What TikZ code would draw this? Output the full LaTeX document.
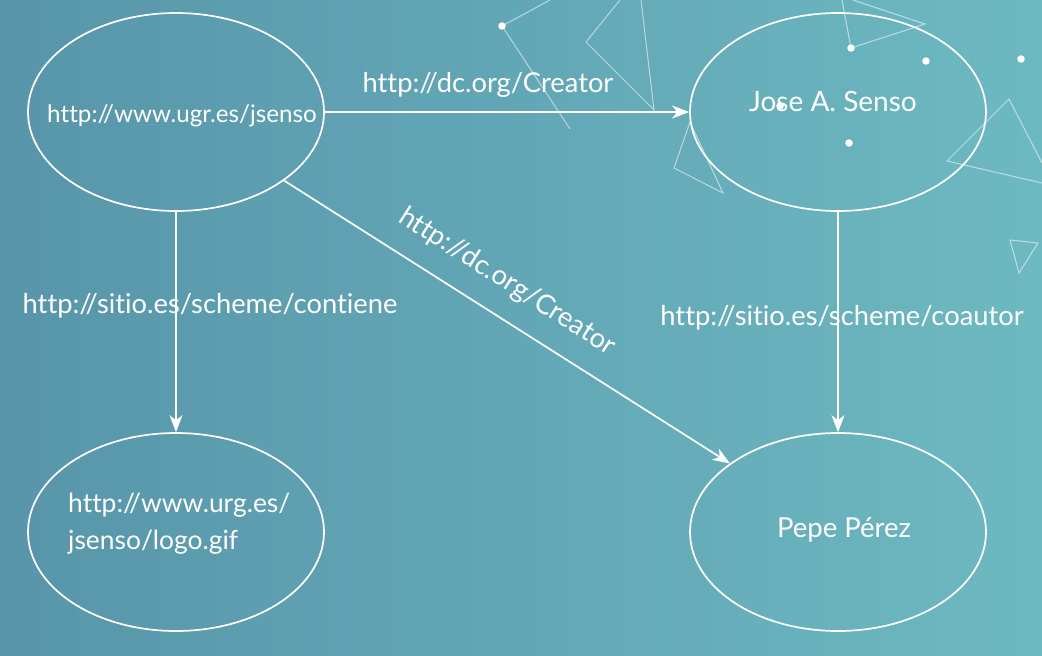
\documentclass[tikz,border=0pt]{standalone}
\usepackage{fontspec}
\setmainfont{Lato}[Ligatures={NoCommon}]
\usetikzlibrary{arrows.meta, shapes.geometric}
\definecolor{bgleft}{HTML}{5895AA}
\definecolor{bgright}{HTML}{6DB9C1}

\begin{document}
\begin{tikzpicture}[x=1pt, y=-1pt,
    res/.style={ellipse, draw=white, line width=1.7pt, minimum width=296pt, minimum height=198pt, inner sep=0pt},
    restext/.style={text=white, inner sep=0pt, anchor=base, font=\fontsize{27.5}{37}\selectfont},
    prop/.style={text=white, inner sep=0pt, anchor=base, font=\fontsize{27.3}{30}\selectfont},
    arrow/.style={-{Stealth[length=17pt, width=13pt, inset=5pt]}, line width=1.7pt, color=white},
    deco/.style={white, opacity=0.55, line width=1pt},
    dot/.style={circle, fill=white, inner sep=0pt, minimum size=7.5pt}
]
% Background
\useasboundingbox (0,0) rectangle (1042,656);
\clip (0,0) rectangle (1042,656);
\shade[left color=bgleft, right color=bgright] (0,0) rectangle (1042,656);

% Decoration
\draw[deco] (550,0) -- (502,26) -- (570,129);
\draw[deco] (620,0) -- (586,42) -- (654,110) -- (641,0);
\draw[deco] (690,122) -- (674,168) -- (723,193) -- cycle;
\draw[deco] (842,0) -- (851,48) -- (925,24) -- (853,0);
\draw[deco] (1042,163) -- (1009,99) -- (947,161) -- (1042,183);
\draw[deco] (1010,240) -- (1038,243) -- (1019,273) -- cycle;
\foreach \p [count=\i] in {(502,26), (851,48), (926,61), (1021,59), (849,143), (780,106)}
    \node[dot] (dot\i) at \p {};

% Resources
\node[res] (ugr) at (176,112) {};
\node[res] (senso) at (838,112) {};
\node[res] (logo) at (176,532) {};
\node[res] (perez) at (838,532) {};
\node[restext, font=\fontsize{24.2}{30}\selectfont] (ugrtxt) at (182,122) {http://www.ugr.es/jsenso};
\node[restext, font=\fontsize{28}{34}\selectfont] (sensotxt) at (833,111) {Jose A. Senso};
\node[restext, anchor=north west, align=left, font=\fontsize{26.4}{37}\selectfont] (logotxt) at (68,493) {http://www.urg.es/\\jsenso/logo.gif};
\node[restext] (pereztxt) at (844,537) {Pepe Pérez};

% Properties
\draw[arrow] (ugr.east) -- (senso.west);
\draw[arrow] (ugr) -- (logo);
\draw[arrow] (ugr) -- (perez);
\draw[arrow] (senso) -- (perez);

\node[prop] (creator) at (488,92) {http://dc.org/Creator};
\node[prop] (contiene) at (210,313) {http://sitio.es/scheme/contiene};
\node[prop] (coautor) at (842,325) {http://sitio.es/scheme/coautor};
\node[prop, anchor=center, rotate=-32.5] (creatorb) at (507,282) {http://dc.org/Creator};

\end{tikzpicture}
\end{document}
